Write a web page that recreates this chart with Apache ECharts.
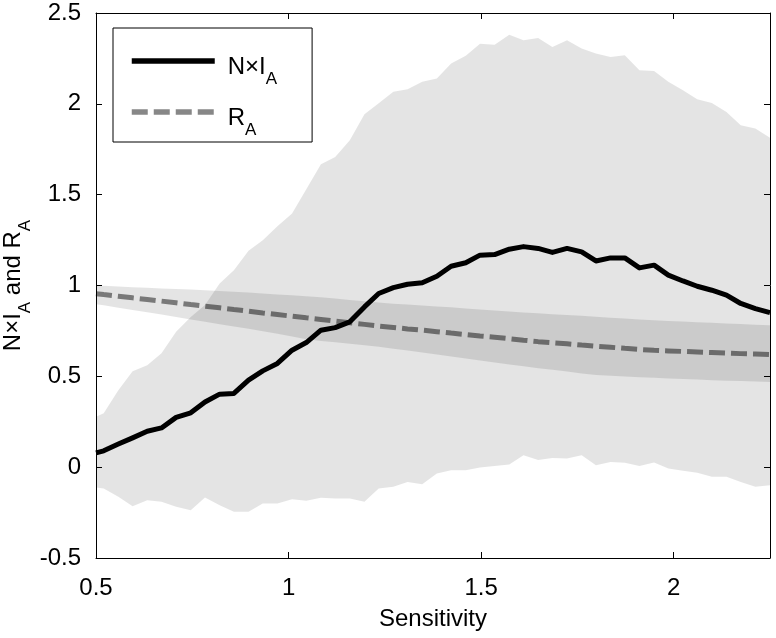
<!DOCTYPE html>
<html>
<head>
<meta charset="utf-8">
<script src="https://cdn.jsdelivr.net/npm/echarts@6/dist/echarts.min.js"></script>
<style>
html,body{margin:0;padding:0;background:#fff;}
#chart{width:776px;height:638px;}
</style>
</head>
<body>
<div id="chart"></div>
<script>
// Sensitivity values (x)
const xs = [0.500,0.520,0.558,0.595,0.633,0.670,0.708,0.746,0.783,0.821,0.858,0.896,0.933,0.971,1.009,1.046,1.084,1.121,1.159,1.197,1.234,1.272,1.309,1.347,1.385,1.422,1.460,1.497,1.535,1.573,1.610,1.648,1.685,1.723,1.761,1.798,1.836,1.873,1.911,1.949,1.986,2.024,2.061,2.099,2.137,2.174,2.212,2.250];
// N×I_A mean
const nxia = [0.079,0.090,0.127,0.161,0.198,0.216,0.274,0.299,0.359,0.402,0.406,0.479,0.530,0.571,0.644,0.686,0.754,0.768,0.800,0.882,0.956,0.988,1.007,1.015,1.051,1.106,1.125,1.167,1.170,1.200,1.214,1.204,1.182,1.204,1.185,1.135,1.152,1.152,1.097,1.112,1.057,1.025,0.996,0.974,0.947,0.901,0.873,0.851];
// N×I_A band (upper / lower)
const nxiaHi = [0.277,0.297,0.424,0.528,0.561,0.627,0.745,0.827,0.892,1.011,1.084,1.191,1.249,1.326,1.396,1.530,1.668,1.708,1.800,1.943,2.003,2.066,2.080,2.121,2.139,2.222,2.265,2.331,2.325,2.380,2.350,2.363,2.313,2.350,2.304,2.277,2.258,2.267,2.185,2.181,2.121,2.075,2.025,2.005,1.955,1.882,1.864,1.813];
const nxiaLo = [-0.112,-0.117,-0.163,-0.215,-0.182,-0.191,-0.218,-0.237,-0.167,-0.209,-0.246,-0.246,-0.200,-0.200,-0.176,-0.185,-0.169,-0.172,-0.172,-0.191,-0.117,-0.108,-0.081,-0.094,-0.035,-0.017,-0.017,-0.002,0.006,0.015,0.066,0.039,0.051,0.048,0.066,0.011,0.029,0.024,0.006,0.026,-0.007,-0.020,-0.031,-0.053,-0.053,-0.081,-0.108,-0.099];
// R_A mean
const ra = [0.955,0.950,0.941,0.932,0.923,0.914,0.905,0.895,0.886,0.877,0.868,0.859,0.849,0.840,0.831,0.822,0.813,0.804,0.795,0.786,0.777,0.769,0.761,0.754,0.746,0.738,0.730,0.722,0.715,0.707,0.699,0.691,0.685,0.679,0.672,0.666,0.660,0.654,0.648,0.643,0.640,0.637,0.634,0.631,0.628,0.625,0.623,0.620];
// R_A band (upper / lower)
const raHi = [1.000,0.998,0.995,0.991,0.988,0.984,0.981,0.978,0.974,0.970,0.965,0.961,0.956,0.951,0.946,0.941,0.935,0.928,0.920,0.913,0.906,0.900,0.895,0.890,0.885,0.880,0.874,0.868,0.862,0.857,0.852,0.847,0.842,0.837,0.833,0.828,0.823,0.818,0.813,0.809,0.805,0.802,0.798,0.795,0.791,0.788,0.784,0.781];
const raLo = [0.897,0.891,0.878,0.865,0.853,0.840,0.826,0.813,0.800,0.787,0.774,0.762,0.748,0.734,0.719,0.704,0.695,0.687,0.679,0.671,0.663,0.652,0.642,0.631,0.620,0.609,0.598,0.587,0.576,0.565,0.555,0.545,0.536,0.526,0.516,0.507,0.503,0.499,0.495,0.492,0.488,0.485,0.482,0.479,0.476,0.474,0.471,0.469];

const FONT = '"Liberation Sans", Arial, Helvetica, sans-serif';

function band(name, hi, lo) {
  return {
    name: name,
    type: 'custom',
    coordinateSystem: 'cartesian2d',
    xAxisIndex: 0, yAxisIndex: 0,
    silent: true,
    clip: true,
    z: 1,
    data: [[xs[0], lo[0]]],
    renderItem: function (params, api) {
      const pts = [];
      for (let i = 0; i < xs.length; i++) pts.push(api.coord([xs[i], hi[i]]));
      for (let i = xs.length - 1; i >= 0; i--) pts.push(api.coord([xs[i], lo[i]]));
      return { type: 'polygon', shape: { points: pts }, style: { fill: 'rgba(0,0,0,0.105)', stroke: null } };
    }
  };
}

const axisCommon = {
  type: 'value',
  nameMoveOverlap: false,
  axisLine: { onZero: false, lineStyle: { color: '#000', width: 1 } },
  axisTick: { inside: true, length: 6, lineStyle: { color: '#000', width: 1 } },
  splitLine: { show: false }
};

const chart = echarts.init(document.getElementById('chart'), null, { renderer: 'canvas' });
chart.setOption({
  animation: false,
  backgroundColor: '#fff',
  grid: { left: 96, right: 6, top: 13, bottom: 80, containLabel: false, outerBoundsMode: 'none' },
  legend: {
    data: ['nxi', 'ra'],
    orient: 'vertical',
    left: 113, top: 28,
    padding: [27, 35, 3, 16],
    itemWidth: 83, itemHeight: 14, itemGap: 18,
    backgroundColor: '#fff',
    borderColor: '#000', borderWidth: 1, borderRadius: 0,
    selectedMode: false,
    itemStyle: { opacity: 0 },
    lineStyle: { width: 5.5 },
    formatter: function (n) { return n === 'nxi' ? '{m|N×I}{s|A}' : '{m|R}{s|A}'; },
    textStyle: {
      fontFamily: FONT, fontSize: 24, color: '#000',
      rich: {
        m: { fontFamily: FONT, fontSize: 24, color: '#000', padding: [21, 0, 9, 8] },
        s: { fontFamily: FONT, fontSize: 17, color: '#000', verticalAlign: 'bottom' }
      }
    }
  },
  xAxis: [
    Object.assign({}, axisCommon, {
      min: 0.5, max: 2.25, interval: 0.5, position: 'bottom',
      name: 'Sensitivity', nameLocation: 'middle', nameGap: 49,
      nameTextStyle: { fontFamily: FONT, fontSize: 24, color: '#000' },
      axisLabel: { fontFamily: FONT, fontSize: 24, color: '#000', margin: 18, showMaxLabel: false }
    }),
    Object.assign({}, axisCommon, {
      min: 0.5, max: 2.25, interval: 0.5, position: 'top',
      axisLabel: { show: false }
    })
  ],
  yAxis: [
    Object.assign({}, axisCommon, {
      min: -0.5, max: 2.5, interval: 0.5, position: 'left',
      name: '{m|N×I}{s|A}{m| and R}{s|A}', nameLocation: 'middle', nameGap: 62,
      nameTextStyle: {
        fontFamily: FONT, fontSize: 24, color: '#000',
        rich: {
          m: { fontFamily: FONT, fontSize: 24, color: '#000', padding: [0, 0, 9, 0] },
          s: { fontFamily: FONT, fontSize: 17, color: '#000', verticalAlign: 'bottom' }
        }
      },
      axisLabel: { fontFamily: FONT, fontSize: 24, color: '#000', margin: 15 }
    }),
    Object.assign({}, axisCommon, {
      min: -0.5, max: 2.5, interval: 0.5, position: 'right',
      axisLabel: { show: false }
    })
  ],
  series: [
    band('nxiBand', nxiaHi, nxiaLo),
    band('raBand', raHi, raLo),
    {
      name: 'nxi', type: 'line', xAxisIndex: 0, yAxisIndex: 0, z: 3,
      symbol: 'none', smooth: false,
      data: xs.map((x, i) => [x, nxia[i]]),
      lineStyle: { color: '#000', width: 5, cap: 'butt', join: 'round' },
      itemStyle: { color: '#000' }
    },
    {
      name: 'ra', type: 'line', xAxisIndex: 0, yAxisIndex: 0, z: 4,
      symbol: 'none', smooth: false,
      data: xs.map((x, i) => [x, ra[i]]),
      lineStyle: { color: 'rgba(0,0,0,0.47)', width: 5, type: [16, 6], cap: 'butt' },
      itemStyle: { color: 'rgba(0,0,0,0.47)' }
    }
  ]
});
</script>
</body>
</html>
